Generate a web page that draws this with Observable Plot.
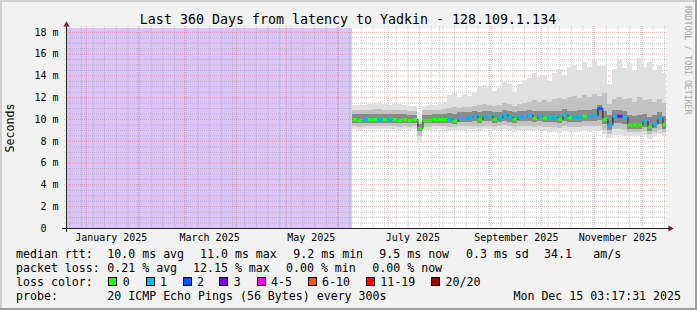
<!DOCTYPE html>
<html>
<head>
<meta charset="utf-8">
<script src="https://cdn.jsdelivr.net/npm/d3@7"></script>
<script src="https://cdn.jsdelivr.net/npm/@observablehq/plot@0.6"></script>
<style>
  html, body { margin: 0; padding: 0; background: #f2f2f2; }
  #chart { width: 697px; height: 310px; position: relative; background: #f2f2f2; overflow: hidden; }
  #chart svg { display: block; }
</style>
</head>
<body>
<div id="chart"></div>
<script>
// ---------------- texts ----------------
const titleText = "Last 360 Days from latency to Yadkin - 128.109.1.134";
const yAxisTitle = "Seconds";
const watermarkText = "RRDTOOL / TOBI OETIKER";

// ---------------- scales / ticks ----------------
const timeStart = "2024-12-20T03:17:31Z";
const timeEnd = "2025-12-15T03:17:31Z";
const yMax = 18.35;
const yTickValues = [0, 2, 4, 6, 8, 10, 12, 14, 16, 18];
const yTickLabels = ["0\u00a0\u00a0", "2 m", "4 m", "6 m", "8 m", "10 m", "12 m", "14 m", "16 m", "18 m"];
const xTickDates = ["2025-01-16", "2025-03-16", "2025-05-16", "2025-07-16", "2025-09-16", "2025-11-16"];
const xTickLabels = ["January 2025", "March 2025", "May 2025", "July 2025", "September 2025", "November 2025"];

// period without data (shaded)
const unknownFrom = ["2024-12-20T03:17:31Z"];
const unknownTo = ["2025-06-10T00:00:00Z"];

// ---------------- series (3-day buckets) ----------------
const bucketStarts = [
  "2025-06-10","2025-06-13","2025-06-16","2025-06-19","2025-06-22","2025-06-25","2025-06-28","2025-07-01","2025-07-04","2025-07-07",
  "2025-07-10","2025-07-13","2025-07-16","2025-07-19","2025-07-22","2025-07-25","2025-07-28","2025-07-31","2025-08-03","2025-08-06",
  "2025-08-09","2025-08-12","2025-08-15","2025-08-18","2025-08-21","2025-08-24","2025-08-27","2025-08-30","2025-09-02","2025-09-05",
  "2025-09-08","2025-09-11","2025-09-14","2025-09-17","2025-09-20","2025-09-23","2025-09-26","2025-09-29","2025-10-02","2025-10-05",
  "2025-10-08","2025-10-11","2025-10-14","2025-10-17","2025-10-20","2025-10-23","2025-10-26","2025-10-29","2025-11-01","2025-11-04",
  "2025-11-07","2025-11-10","2025-11-13","2025-11-16","2025-11-19","2025-11-22","2025-11-25","2025-11-28","2025-12-01","2025-12-04",
  "2025-12-07","2025-12-10","2025-12-13"
];
const lastBucketEnd = "2025-12-16";

// median RTT (ms)
const medianRtt = [
  10.0, 9.9, 10.0, 10.0, 10.0, 10.0, 10.0, 10.0, 10.0, 9.9,
  10.0, 9.9, 10.0, 9.2, 9.9, 9.9, 10.0, 10.0, 10.0, 10.0,
  9.85, 10.1, 10.1, 10.2, 10.3, 10.0, 10.3, 10.3, 10.0, 10.15,
  10.4, 10.2, 10.0, 10.25, 10.3, 10.4, 10.1, 10.3, 10.15, 10.2,
  10.2, 10.0, 10.4, 10.15, 10.2, 10.2, 10.3, 10.3, 10.35, 11.0,
  10.0, 9.5, 10.3, 10.3, 10.2, 9.5, 9.5, 9.5, 9.85, 9.3,
  9.6, 10.1, 9.55
];
// loss colour class (index into lossLabels)
const lossLevel = [
  0, 0, 1, 0, 0, 1, 0, 1, 0, 0,
  0, 0, 0, 0, 0, 0, 0, 0, 0, 1,
  0, 1, 1, 1, 1, 0, 1, 1, 0, 1,
  1, 1, 0, 1, 1, 1, 0, 1, 0, 1,
  1, 0, 1, 0, 1, 1, 0, 1, 1, 2,
  0, 1, 1, 3, 1, 0, 0, 0, 1, 0,
  1, 1, 0
];
// smoke extents (ms)
const smokeMax = [
  11.3, 11.3, 11.25, 11.35, 11.45, 11.45, 11.4, 11.3, 11.35, 11.35,
  11.3, 11.15, 11.15, 9.8, 11.2, 11.25, 11.3, 11.4, 11.6, 12.2,
  12.4, 12.0, 12.3, 12.1, 12.4, 13.0, 13.1, 12.9, 12.6, 12.8,
  13.4, 13.2, 12.5, 13.2, 13.6, 13.8, 14.2, 13.9, 14.0, 13.5,
  14.2, 14.6, 14.0, 14.8, 15.0, 14.5, 15.2, 14.8, 15.3, 14.9,
  15.0, 13.2, 14.6, 15.4, 14.7, 15.1, 14.4, 15.6, 14.8, 15.2,
  14.5, 15.0, 14.2
];
const smokeHigh = [
  10.8, 10.8, 10.8, 10.85, 10.9, 10.9, 10.85, 10.8, 10.85, 10.8,
  10.8, 10.75, 10.75, 9.7, 10.8, 10.8, 10.8, 10.85, 10.9, 11.0,
  11.1, 11.0, 11.1, 11.1, 11.2, 11.3, 11.4, 11.3, 11.2, 11.3,
  11.5, 11.4, 11.2, 11.4, 11.5, 11.6, 11.7, 11.6, 11.7, 11.6,
  11.8, 11.9, 11.8, 12.0, 12.1, 11.9, 12.2, 12.0, 12.3, 12.1,
  12.4, 11.4, 11.8, 12.0, 11.8, 11.9, 11.6, 12.0, 11.7, 11.8,
  11.6, 11.8, 11.5
];
const smokeCoreHigh = [
  10.45, 10.45, 10.45, 10.45, 10.5, 10.5, 10.45, 10.45, 10.45, 10.45,
  10.45, 10.4, 10.4, 9.5, 10.4, 10.4, 10.45, 10.45, 10.5, 10.55,
  10.5, 10.6, 10.6, 10.65, 10.7, 10.6, 10.7, 10.7, 10.6, 10.65,
  10.8, 10.7, 10.6, 10.7, 10.75, 10.8, 10.7, 10.75, 10.7, 10.75,
  10.75, 10.7, 10.9, 10.7, 10.75, 10.8, 10.85, 10.85, 10.9, 11.3,
  10.7, 10.4, 10.8, 10.85, 10.75, 10.4, 10.3, 10.35, 10.5, 10.2,
  10.4, 10.6, 10.3
];
const smokeCoreLow = [
  9.65, 9.6, 9.65, 9.65, 9.65, 9.65, 9.65, 9.65, 9.65, 9.6,
  9.65, 9.6, 9.65, 8.9, 9.6, 9.6, 9.65, 9.65, 9.65, 9.65,
  9.55, 9.7, 9.7, 9.75, 9.8, 9.65, 9.8, 9.8, 9.65, 9.75,
  9.85, 9.75, 9.6, 9.8, 9.8, 9.85, 9.7, 9.8, 9.7, 9.75,
  9.75, 9.6, 9.85, 9.7, 9.7, 9.75, 9.8, 9.8, 9.8, 9.9,
  9.5, 9.0, 9.6, 9.6, 9.5, 9.1, 9.1, 9.1, 9.3, 8.9,
  9.2, 9.5, 9.1
];
const smokeLow = [
  9.35, 9.3, 9.35, 9.35, 9.35, 9.35, 9.35, 9.35, 9.35, 9.3,
  9.35, 9.3, 9.35, 8.4, 9.3, 9.3, 9.35, 9.35, 9.35, 9.3,
  9.25, 9.35, 9.35, 9.4, 9.4, 9.3, 9.4, 9.4, 9.3, 9.35,
  9.45, 9.35, 9.25, 9.35, 9.35, 9.4, 9.3, 9.35, 9.3, 9.3,
  9.3, 9.2, 9.4, 9.3, 9.3, 9.3, 9.35, 9.35, 9.35, 9.4,
  9.0, 8.6, 9.1, 9.1, 9.0, 8.8, 8.8, 8.85, 8.9, 8.6,
  8.8, 9.0, 8.8
];
const smokeMin = [
  9.05, 9.0, 9.05, 9.05, 9.05, 9.05, 9.05, 9.05, 9.05, 9.0,
  9.05, 9.0, 9.05, 7.8, 9.0, 9.0, 9.05, 9.05, 9.0, 8.95,
  8.9, 9.0, 9.0, 9.05, 9.05, 8.95, 9.05, 9.05, 8.95, 9.0,
  9.05, 9.0, 8.85, 8.95, 8.95, 9.0, 8.9, 8.95, 8.9, 8.85,
  8.85, 8.75, 8.9, 8.8, 8.85, 8.8, 8.9, 8.85, 8.9, 8.9,
  8.6, 8.3, 8.5, 8.5, 8.4, 8.4, 8.4, 8.45, 8.5, 8.2,
  8.4, 8.6, 8.4
];

// ---------------- legend ----------------
const lossLabels = ["0", "1", "2", "3", "4-5", "6-10", "11-19", "20/20"];
const lossColors = ["#26ff00", "#00b8ff", "#0059ff", "#7e00ff", "#ff00ff", "#ff5500", "#ff0000", "#a10000"];
const rttHeader = "median rtt:";
const rttStats = ["10.0 ms avg", "11.0 ms max", "9.2 ms min", "9.5 ms now", "0.3 ms sd", "34.1", "am/s"];
const lossHeader = "packet loss:";
const lossStats = ["0.21 % avg", "12.15 % max", "0.00 % min", "0.00 % now"];
const colorHeader = "loss color:";
const probeHeader = "probe:";
const probeText = "20 ICMP Echo Pings (56 Bytes) every 300s";
const stampText = "Mon Dec 15 03:17:31 2025";

// ---------------- build ----------------
const X0 = new Date(timeStart), X1 = new Date(timeEnd);
const utc = s => new Date(s.length === 10 ? s + "T00:00:00Z" : s);
const rows = bucketStarts.map((s, i) => ({
  t0: utc(s),
  t1: utc(i + 1 < bucketStarts.length ? bucketStarts[i + 1] : lastBucketEnd),
  med: medianRtt[i],
  color: lossColors[lossLevel[i]],
  min: smokeMin[i], low: smokeLow[i], coreLow: smokeCoreLow[i],
  coreHigh: smokeCoreHigh[i], high: smokeHigh[i], max: smokeMax[i]
}));
const unknownRows = unknownFrom.map((f, i) => ({from: utc(f), to: utc(unknownTo[i])}));

const majorY = yTickValues.filter(v => v > 0);
const minorY = d3.range(0.5, yMax, 0.5).filter(v => v % 2 !== 0);
const monthTicks = d3.utcMonth.range(X0, X1);
const weekTicks = d3.utcSunday.range(X0, X1);
const xTicks = xTickDates.map(utc);

const gridColor = "rgba(143,143,143,0.45)";
const mgridColor = "rgba(222,79,79,0.42)";

const plot = Plot.plot({
  width: 697, height: 310,
  marginTop: 28, marginRight: 31, marginBottom: 82, marginLeft: 66,
  style: {background: "transparent", fontFamily: "'DejaVu Sans Mono', monospace", fontSize: "10px", color: "#000", overflow: "visible"},
  x: {type: "utc", domain: [X0, X1], axis: null},
  y: {type: "linear", domain: [0, yMax], axis: null},
  color: {type: "identity"},
  marks: [
    Plot.frame({fill: "#ffffff", stroke: null}),
    Plot.rect(unknownRows, {x1: "from", x2: "to", y1: 0, y2: yMax, fill: "#dac4f8", shapeRendering: "crispEdges"}),
    // grid
    Plot.ruleY(minorY, {stroke: gridColor, strokeDasharray: "1,1", insetLeft: -2, insetRight: -2}),
    Plot.ruleX(weekTicks, {stroke: gridColor, strokeDasharray: "1,1", insetTop: -2, insetBottom: -2}),
    Plot.ruleY(majorY, {stroke: mgridColor, strokeDasharray: "1,1", insetLeft: -2, insetRight: -2}),
    Plot.ruleX(monthTicks, {stroke: mgridColor, strokeDasharray: "1,1", insetTop: -2, insetBottom: -2}),
    // smoke
    Plot.rect(rows, {x1: "t0", x2: "t1", y1: "min", y2: "max", fill: "#e0e0e0", clip: true, shapeRendering: "crispEdges"}),
    Plot.rect(rows, {x1: "t0", x2: "t1", y1: "low", y2: "high", fill: "#c2c2c2", clip: true, shapeRendering: "crispEdges"}),
    Plot.rect(rows, {x1: "t0", x2: "t1", y1: "coreLow", y2: "coreHigh", fill: "#8a8a8a", clip: true, shapeRendering: "crispEdges"}),
    // median
    Plot.line(rows, {x: "t0", y: "med", curve: "step-after", stroke: "#202020", strokeWidth: 1, clip: true}),
    Plot.ruleY(rows, {y: "med", x1: "t0", x2: "t1", stroke: "color", strokeWidth: 3, clip: true}),
    // axes lines and arrows
    Plot.ruleY([0], {stroke: "#1f1f1f", insetLeft: -4, insetRight: -4}),
    Plot.ruleX([X0], {stroke: "#1f1f1f", insetTop: -4, insetBottom: -4}),
    Plot.dot([[X1, 0]], {x: d => d[0], y: d => d[1], symbol: "triangle", r: 2.3, fill: "#801f1f", stroke: null, rotate: 90, dx: 3.7}),
    Plot.dot([[X0, yMax]], {x: d => d[0], y: d => d[1], symbol: "triangle", r: 2.3, fill: "#801f1f", stroke: null, dy: -3.7}),
    // tick labels
    Plot.axisY(yTickValues, {tickSize: 0, tickPadding: 8, fontSize: 10, tickFormat: d => yTickLabels[yTickValues.indexOf(d)], label: null}),
    Plot.axisX(xTicks, {tickSize: 0, tickPadding: 5, fontSize: 10, tickFormat: d => xTickLabels[xTicks.findIndex(t => +t === +d)], label: null})
  ]
});
document.getElementById("chart").appendChild(plot);

// ---------------- decorations & legend (real text) ----------------
const svg = d3.select(plot);
const deco = svg.append("g");
deco.append("rect").attr("x", 0).attr("y", 0).attr("width", 697).attr("height", 2).attr("fill", "#cfcfcf");
deco.append("rect").attr("x", 0).attr("y", 0).attr("width", 2).attr("height", 310).attr("fill", "#cfcfcf");
deco.append("rect").attr("x", 0).attr("y", 308).attr("width", 697).attr("height", 2).attr("fill", "#9e9e9e");
deco.append("rect").attr("x", 695).attr("y", 0).attr("width", 2).attr("height", 310).attr("fill", "#9e9e9e");

const txt = svg.append("g").attr("font-family", "'DejaVu Sans Mono', monospace").attr("fill", "#000").attr("text-anchor", "start");
txt.append("text").attr("x", 348).attr("y", 24).attr("text-anchor", "middle").attr("font-size", "13.3px").text(titleText);
txt.append("text").attr("transform", "translate(14,128) rotate(-90)").attr("text-anchor", "middle").attr("font-size", "11.6px").text(yAxisTitle);
txt.append("text").attr("x", 688).attr("y", 6).attr("text-anchor", "start")
  .attr("writing-mode", "vertical-rl").style("writing-mode", "vertical-rl")
  .attr("font-size", "8.2px").attr("fill", "#a8a8a8").text(watermarkText);

const fs = "11.6px";
const row = (y, x, s, anchor) => txt.append("text").attr("x", x).attr("y", y).attr("font-size", fs)
  .attr("text-anchor", anchor || "start").style("white-space", "pre").text(s);

const yRow = [257.5, 271.5, 285.5, 299.5];
row(yRow[0], 16, rttHeader);
[107.3, 200, 293.3, 379.3, 466, 544, 593.3].forEach((x, i) => row(yRow[0], x, rttStats[i]));
row(yRow[1], 16, lossHeader);
[107.3, 193, 286, 372.3].forEach((x, i) => row(yRow[1], x, lossStats[i]));
row(yRow[2], 16, colorHeader);
[108.3, 145.5, 182.5, 219.2, 256.5, 307.5, 365.8, 431].forEach((x, i) => {
  txt.append("rect").attr("x", Math.round(x) + 0.5).attr("y", 277.5).attr("width", 8).attr("height", 8)
    .attr("fill", lossColors[i]).attr("stroke", "#000").attr("stroke-width", 1);
  row(yRow[2], x + 14.5, lossLabels[i]);
});
row(yRow[3], 16, probeHeader);
row(yRow[3], 107.3, probeText);
row(yRow[3], 681, stampText, "end");
</script>
</body>
</html>
